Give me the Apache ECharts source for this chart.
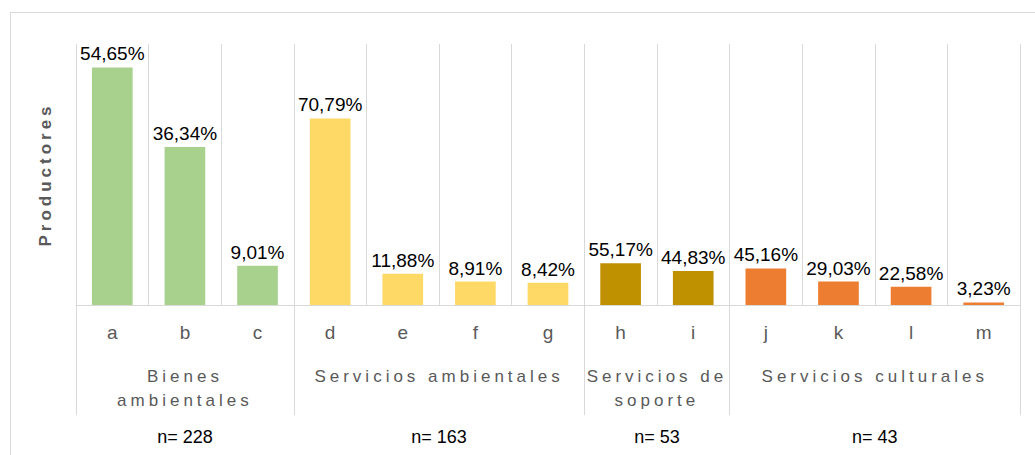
<!DOCTYPE html>
<html>
<head>
<meta charset="utf-8">
<script src="https://cdn.jsdelivr.net/npm/echarts@6/dist/echarts.min.js"></script>
<style>
html, body { margin: 0; padding: 0; background: #fff; overflow: hidden; }
#frame { position: absolute; left: 10px; top: 12px; width: 1200px; height: 600px; border: 1px solid #d9d9d9; box-sizing: border-box; }
#chart { position: absolute; left: 0; top: 0; width: 1035px; height: 455px; }
/* espaciado de letras para los textos grises (grupos y eje) */
#chart text[fill="#595959"], #chart text[fill="rgb(89,89,89)"] { letter-spacing: 4px; }
</style>
</head>
<body>
<div id="frame"></div>
<div id="chart"></div>
<script>
// datos
var categories = ['a', 'b', 'c', 'd', 'e', 'f', 'g', 'h', 'i', 'j', 'k', 'l', 'm'];
var producers = [182, 121, 30, 143, 24, 18, 17, 32, 26, 28, 18, 14, 2];
var shares = [54.65, 36.34, 9.01, 70.79, 11.88, 8.91, 8.42, 55.17, 44.83, 45.16, 29.03, 22.58, 3.23];
var groupNames = ['Bienes\nambientales', 'Servicios ambientales', 'Servicios de\nsoporte', 'Servicios culturales'];
var groupSizes = [3, 4, 2, 4];
var groupN = [228, 163, 53, 43];
var groupColors = ['#A9D18E', '#FFD966', '#BF9000', '#ED7D31'];

var font = '"Liberation Sans", Arial, sans-serif';

// inicio de cada grupo y color de cada barra
var groupStart = [];
var barColors = [];
var k = 0;
groupSizes.forEach(function (size, g) {
    groupStart.push(k);
    for (var j = 0; j < size; j++) barColors.push(groupColors[g]);
    k += size;
});

var chart = echarts.init(document.getElementById('chart'), null, { renderer: 'svg' });

var option = {
    animation: false,
    textStyle: { fontFamily: font },
    grid: { left: 76, right: 15, top: 44, bottom: 150 },
    xAxis: {
        type: 'category',
        data: categories,
        axisLine: { lineStyle: { color: '#d9d9d9', width: 1 } },
        axisTick: {
            show: true,
            length: 110,
            interval: function (index) { return groupStart.indexOf(index) >= 0; },
            lineStyle: { color: '#d9d9d9' }
        },
        axisLabel: { interval: 0, color: '#5a5a5a', fontSize: 19, margin: 18 },
        splitLine: { show: true, interval: 0, lineStyle: { color: '#d9d9d9' } }
    },
    yAxis: {
        type: 'value',
        min: 0,
        max: 200,
        axisLine: { show: false },
        axisTick: { show: false },
        axisLabel: { show: false },
        splitLine: { show: false },
        name: 'Productores',
        nameLocation: 'middle',
        nameRotate: 90,
        nameGap: 22,
        nameTextStyle: { color: '#595959', fontSize: 17, fontWeight: 'bold' }
    },
    series: [{
        type: 'bar',
        barWidth: '56%',
        data: producers.map(function (v, i) {
            return { value: v, itemStyle: { color: barColors[i] } };
        }),
        label: {
            show: true,
            position: 'top',
            distance: 4,
            color: '#000',
            fontSize: 19,
            formatter: function (p) {
                return shares[p.dataIndex].toFixed(2).replace('.', ',') + '%';
            }
        }
    }]
};

chart.setOption(option);

// etiquetas de grupo y n, centradas con la escala del eje
var baseY = chart.convertToPixel({ yAxisIndex: 0 }, 0);
var texts = [];
groupNames.forEach(function (name, g) {
    var s = groupStart[g];
    var e = s + groupSizes[g] - 1;
    var x = (chart.convertToPixel({ xAxisIndex: 0 }, categories[s]) +
             chart.convertToPixel({ xAxisIndex: 0 }, categories[e])) / 2;
    texts.push({
        type: 'text', x: x, y: baseY + 59,
        style: { text: name, fill: '#595959', font: '17px ' + font, align: 'center', verticalAlign: 'top', lineHeight: 24 }
    });
    texts.push({
        type: 'text', x: x, y: baseY + 132,
        style: { text: 'n= ' + groupN[g], fill: '#000', font: '18px ' + font, align: 'center', verticalAlign: 'middle' }
    });
});
chart.setOption({ graphic: texts });

window.addEventListener('resize', function () {
    chart.resize();
});
</script>
</body>
</html>
